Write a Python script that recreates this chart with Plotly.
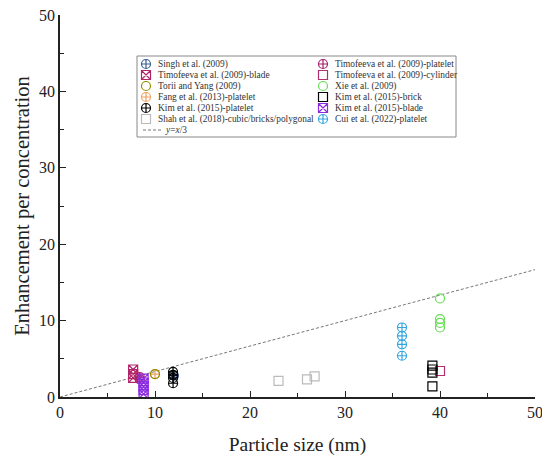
import plotly.graph_objects as go

# ---- data ----
singh_x = [12.0]
singh_y = [2.8]
timo_plate_x = [8.4, 8.4]
timo_plate_y = [2.6, 2.3]
timo_blade_x = [7.7, 7.7, 7.7]
timo_blade_y = [3.6, 3.0, 2.5]
timo_cyl_x = [40.0]
timo_cyl_y = [3.4]
torii_x = [10.0]
torii_y = [3.0]
xie_x = [40.0, 40.0, 40.0, 40.0]
xie_y = [12.9, 10.2, 9.7, 9.1]
fang_x = [10.0]
fang_y = [3.0]
kim_brick_x = [39.2, 39.2, 39.2, 39.2]
kim_brick_y = [4.1, 3.6, 3.2, 1.4]
kim_plate_x = [11.9, 11.9, 11.9, 11.9]
kim_plate_y = [3.3, 2.9, 2.5, 1.8]
kim_blade_x = [8.8, 8.8, 8.8, 8.8, 8.8]
kim_blade_y = [2.4, 1.9, 1.4, 0.9, 0.4]
shah_x = [23.0, 26.0, 26.8]
shah_y = [2.1, 2.3, 2.7]
cui_x = [36.0, 36.0, 36.0, 36.0]
cui_y = [9.1, 8.0, 6.9, 5.4]
line_x = [0, 50]
line_y = [0, 50 / 3]
line_name = "y=x/3"

FONT = "Liberation Serif, Times New Roman, serif"

# legend order (row-major, two columns)
series = [
    ("Singh et al. (2009)", singh_x, singh_y, "circle-cross-open", "#3A5F95"),
    ("Timofeeva et al. (2009)-platelet", timo_plate_x, timo_plate_y, "circle-cross-open", "#A8206E"),
    ("Timofeeva et al. (2009)-blade", timo_blade_x, timo_blade_y, "square-x-open", "#B02468"),
    ("Timofeeva et al. (2009)-cylinder", timo_cyl_x, timo_cyl_y, "square-open", "#B03070"),
    ("Torii and Yang (2009)", torii_x, torii_y, "circle-open", "#8F8F00"),
    ("Xie et al. (2009)", xie_x, xie_y, "circle-open", "#66DD55"),
    ("Fang et al. (2013)-platelet", fang_x, fang_y, "circle-cross-open", "#F0A060"),
    ("Kim et al. (2015)-brick", kim_brick_x, kim_brick_y, "square-open", "#000000"),
    ("Kim et al. (2015)-platelet", kim_plate_x, kim_plate_y, "circle-cross-open", "#000000"),
    ("Kim et al. (2015)-blade", kim_blade_x, kim_blade_y, "square-x-open", "#8A2BE2"),
    ("Shah et al. (2018)-cubic/bricks/polygonal", shah_x, shah_y, "square-open", "#BBBBBB"),
    ("Cui et al. (2022)-platelet", cui_x, cui_y, "circle-cross-open", "#33A6E0"),
]
# drawing order (later drawn on top)
draw_order = [0, 6, 1, 2, 3, 4, 5, 7, 8, 9, 10, 11]

fig = go.Figure()
fig.add_trace(go.Scatter(
    x=line_x, y=line_y, mode="lines", name=line_name, showlegend=False,
    line=dict(color="#777777", width=1, dash="3px,2px"),
))
for i in draw_order:
    name, xs, ys, sym, col = series[i]
    fig.add_trace(go.Scatter(
        x=xs, y=ys, mode="markers", name=name, showlegend=False,
        marker=dict(symbol=sym, size=9, color=col, line=dict(width=1.2, color=col)),
    ))

# ---- compact legend on an overlay axis measured in window pixels ----
# (page body has an 8px margin; plot area spans x 60..535, y 15..397 in the window)
L_BOX = (137, 456, 56, 137)
col_x = [146, 323]
row_y0, row_dy = 64, 11
sym_x, sym_y, syms, cols = [], [], [], []
annotations = []
for k, (name, xs, ys, sym, col) in enumerate(series):
    cx = col_x[k % 2]
    cy = row_y0 + row_dy * (k // 2)
    sym_x.append(cx); sym_y.append(cy); syms.append(sym); cols.append(col)
    annotations.append(dict(x=cx + 10, y=cy, xref="x2", yref="y2", text=name,
                            showarrow=False, xanchor="left", yanchor="middle",
                            font=dict(family=FONT, size=9.4, color="#333333")))
ly = row_y0 + row_dy * 6
fig.add_trace(go.Scatter(
    x=[143, 162], y=[ly, ly], xaxis="x2", yaxis="y2", mode="lines", showlegend=False,
    hoverinfo="skip", line=dict(color="#777777", width=1, dash="3px,2px"),
))
annotations.append(dict(x=163, y=ly, xref="x2", yref="y2", text="<i>y</i>=<i>x</i>/3",
                        showarrow=False, xanchor="left", yanchor="middle",
                        font=dict(family=FONT, size=9.4, color="#333333")))
fig.add_trace(go.Scatter(
    x=sym_x, y=sym_y, xaxis="x2", yaxis="y2", mode="markers", showlegend=False,
    hoverinfo="skip",
    marker=dict(symbol=syms, size=9, color=cols, line=dict(width=1.2, color=cols)),
))

fig.update_layout(
    width=542, height=456,
    margin=dict(l=52, r=15, t=7, b=67),
    paper_bgcolor="white", plot_bgcolor="white",
    font=dict(family=FONT, color="#222222"),
    showlegend=False,
    annotations=annotations,
    shapes=[dict(type="rect", xref="x2", yref="y2", x0=L_BOX[0], x1=L_BOX[1],
                 y0=L_BOX[2], y1=L_BOX[3], line=dict(color="#888888", width=1),
                 fillcolor="white", layer="below")],
    xaxis=dict(
        range=[0, 50], tickmode="array", tickvals=[0, 10, 20, 30, 40, 50],
        ticks="inside", ticklen=6, tickwidth=1.2, tickcolor="#222222",
        minor=dict(tickvals=[5, 15, 25, 35, 45], ticks="inside", ticklen=4, tickcolor="#222222"),
        showline=True, linecolor="#222222", linewidth=1.5, showgrid=False, zeroline=False,
        automargin=False, ticklabeloverflow="allow",
        tickfont=dict(size=16, family=FONT, color="#222222"),
        title=dict(text="Particle size (nm)", font=dict(size=19.5, family=FONT), standoff=17),
    ),
    yaxis=dict(
        range=[0, 50], tickmode="array", tickvals=[0, 10, 20, 30, 40, 50],
        ticks="inside", ticklen=6, tickwidth=1.2, tickcolor="#222222",
        minor=dict(tickvals=[5, 15, 25, 35, 45], ticks="inside", ticklen=4, tickcolor="#222222"),
        showline=True, linecolor="#222222", linewidth=1.5, showgrid=False, zeroline=False,
        automargin=False, ticklabeloverflow="allow",
        tickfont=dict(size=16, family=FONT, color="#222222"),
        title=dict(text="Enhancement per concentration", font=dict(size=20.5, family=FONT), standoff=4),
    ),
    xaxis2=dict(overlaying="x", range=[60, 535], visible=False, fixedrange=True),
    yaxis2=dict(overlaying="y", range=[397, 15], visible=False, fixedrange=True),
)

fig.write_html("out.html")
